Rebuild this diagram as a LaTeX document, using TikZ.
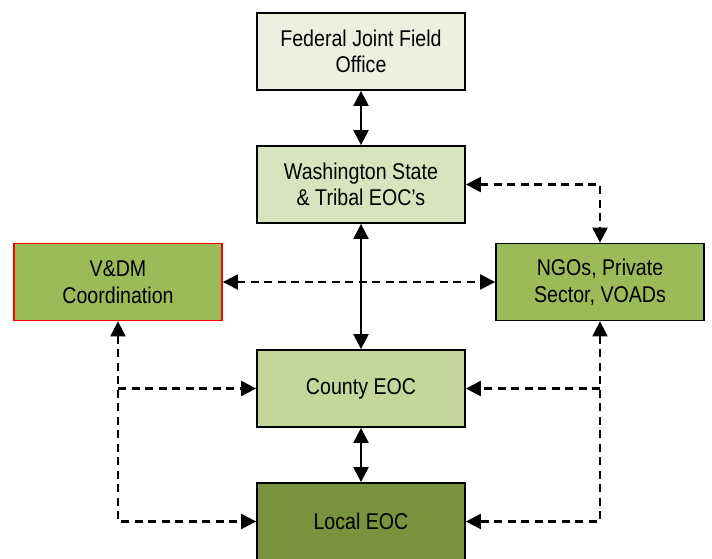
\documentclass[tikz,border=0pt]{standalone}
\usepackage{fontspec}
\setmainfont{Liberation Sans}[FakeStretch=0.86]
\usetikzlibrary{arrows.meta}
\definecolor{paleolive}{HTML}{EBF1DE}
\definecolor{lightolive}{HTML}{D7E4BD}
\definecolor{midolive}{HTML}{C3D69B}
\definecolor{olive}{HTML}{9BBB59}
\definecolor{darkolive}{HTML}{77933C}
\begin{document}
\begin{tikzpicture}[x=1pt, y=-1pt,
  eoc/.style={draw=black, line width=1.8pt, minimum width=208pt, minimum height=77pt,
    align=center, inner sep=0pt, font=\fontsize{22.8}{26.5}\selectfont},
  link/.style={line width=2.2pt, {Triangle[length=15pt,width=15pt]}-{Triangle[length=15pt,width=15pt]}},
  dlink/.style={link, dash pattern=on 8pt off 5.5pt},
  dto/.style={line width=2.2pt, dash pattern=on 8pt off 5.5pt, -{Triangle[length=15pt,width=15pt]}}]
  \clip (0, 0) rectangle (712, 558);
  \node[eoc, fill=paleolive] (fed) at (361, 51.5) {Federal Joint Field\\Office};
  \node[eoc, fill=lightolive] (wash) at (361, 184.5) {Washington State\\\& Tribal EOC’s};
  \node[eoc, fill=olive, draw=red] (vdm) at (118, 282) {V\&DM\\Coordination};
  \node[eoc, fill=olive] (ngo) at (600, 282) {NGOs, Private\\Sector, VOADs};
  \node[eoc, fill=midolive] (county) at (361, 388.5) {County EOC};
  \node[eoc, fill=darkolive] (local) at (361, 521.5) {Local EOC};
  \draw[link] (fed) -- (wash);
  \draw[link] (wash) -- (county);
  \draw[link] (county) -- (local);
  \draw[dlink] (vdm) -- (ngo);
  \draw[dlink] (wash.east) -| (ngo.north);
  \draw[dlink] (vdm.south) |- (local.west);
  \draw[dlink] (ngo.south) |- (local.east);
  \coordinate (ljoin) at (vdm.south |- county.west);
  \coordinate (rjoin) at (ngo.south |- county.east);
  \draw[dto] (ljoin) -- (county.west);
  \draw[dto] (rjoin) -- (county.east);
\end{tikzpicture}
\end{document}
